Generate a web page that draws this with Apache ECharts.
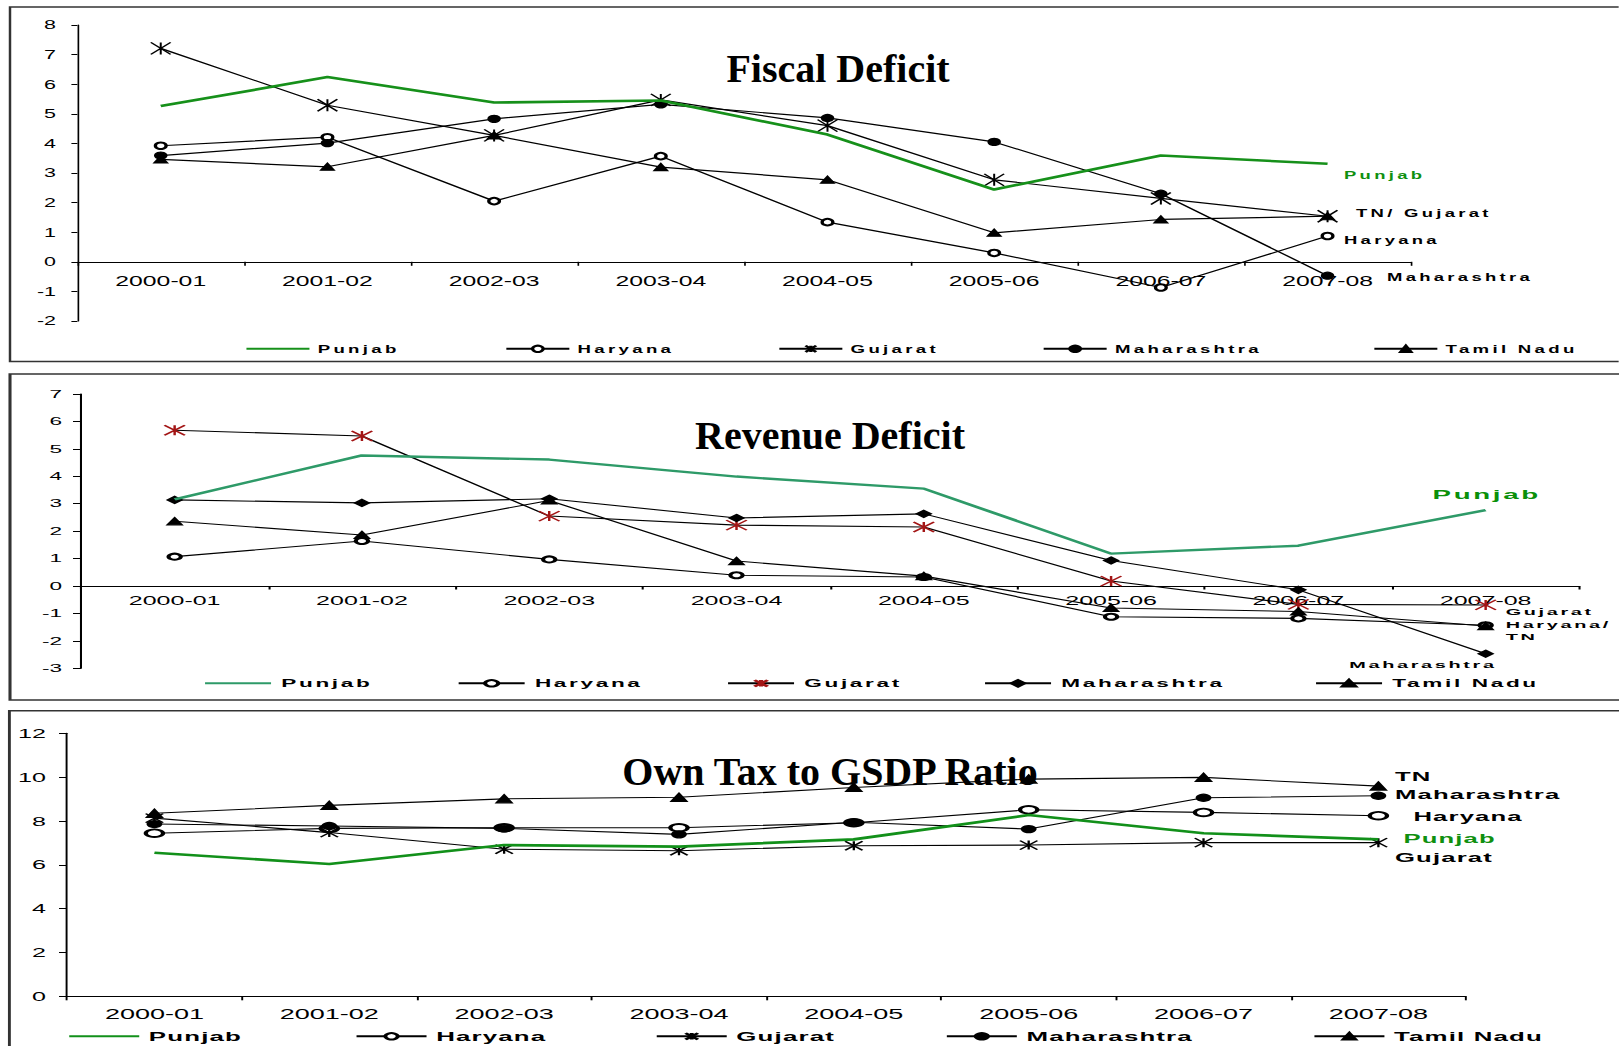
<!DOCTYPE html>
<html>
<head>
<meta charset="utf-8">
<script src="https://cdn.jsdelivr.net/npm/echarts@6/dist/echarts.min.js"></script>
<style>
  html, body { margin: 0; padding: 0; background: #fff; width: 1619px; height: 1046px; overflow: hidden; position: relative; }
  .panel { position: absolute; left: 0; top: 0; height: 1046px; transform-origin: 0 0; }
  /* wide-tracked bold captions (legend + line labels), titles excluded */
  #fiscal text[style*="bold"]:not([style*="Serif"]) { letter-spacing: 2px; }
  #revenue text[style*="bold"]:not([style*="Serif"]) { letter-spacing: 1.3px; }
  #owntax text[style*="bold"]:not([style*="Serif"]) { letter-spacing: 0.6px; }
</style>
</head>
<body>
<div id="fiscal" class="panel"></div>
<div id="revenue" class="panel"></div>
<div id="owntax" class="panel"></div>
<script>
// ---- shared categories ----
const years = ['2000-01', '2001-02', '2002-03', '2003-04', '2004-05', '2005-06', '2006-07', '2007-08'];
const states = ['Punjab', 'Haryana', 'Gujarat', 'Maharashtra', 'Tamil Nadu'];

// ---- Fiscal Deficit (% of GSDP) ----
const fdPunjab      = [5.26, 6.24, 5.38, 5.45, 4.30, 2.44, 3.59, 3.31];
const fdHaryana     = [3.92, 4.21, 2.05, 3.57, 1.34, 0.30, -0.87, 0.87];
const fdGujarat     = [7.21, 5.29, 4.27, 5.47, 4.60, 2.77, 2.14, 1.54];
const fdMaharashtra = [3.59, 4.01, 4.83, 5.32, 4.86, 4.05, 2.30, -0.47];
const fdTamilNadu   = [3.46, 3.21, 4.27, 3.20, 2.77, 0.98, 1.43, 1.54];
const fdScale = [-2, 8, 1];   // min, max, step

// ---- Revenue Deficit (% of GSDP) ----
const rdPunjab      = [3.16, 4.76, 4.61, 3.99, 3.55, 1.18, 1.47, 2.77];
const rdHaryana     = [1.07, 1.64, 0.97, 0.39, 0.33, -1.12, -1.18, -1.43];
const rdGujarat     = [5.68, 5.47, 2.55, 2.22, 2.15, 0.18, -0.67, -0.69];
const rdMaharashtra = [3.14, 3.03, 3.18, 2.48, 2.63, 0.93, -0.14, -2.47];
const rdTamilNadu   = [2.36, 1.86, 3.12, 0.91, 0.36, -0.80, -0.93, -1.46];
const rdScale = [-3, 7, 1];

// ---- Own Tax to GSDP Ratio ----
const otPunjab      = [6.55, 6.04, 6.90, 6.83, 7.16, 8.27, 7.44, 7.16];
const otHaryana     = [7.44, 7.66, 7.69, 7.69, 7.92, 8.51, 8.39, 8.24];
const otGujarat     = [8.13, 7.47, 6.71, 6.64, 6.87, 6.90, 7.01, 7.01];
const otMaharashtra = [7.86, 7.77, 7.66, 7.39, 7.94, 7.63, 9.06, 9.15];
const otTamilNadu   = [8.35, 8.71, 9.01, 9.08, 9.53, 9.91, 9.99, 9.59];
const otScale = [0, 12, 2];

const STAR = 'path://M0 0L10 10M10 0L0 10M5 0L5 10';
const SANS = 'Liberation Sans';

const panels = [
  {
    id: 'fiscal', title: 'Fiscal Deficit', stretch: 1.65,
    values: [fdPunjab, fdHaryana, fdGujarat, fdMaharashtra, fdTamilNadu], scale: fdScale,
    grid: { x0: 77.4, x1: 1410.9, y0: 25, y1: 321 },
    frame: { x: 10, y: 7, w: 1650, h: 354.5 },
    titleAt: [838, 68],
    lineColors: ['#16901a', '#000', '#000', '#000', '#000'],
    markColors: ['#16901a', '#000', '#000', '#000', '#000'],
    widths: [2.6, 1.2, 1.2, 1.2, 1.2],
    symbols: ['none', 'emptyCircle', STAR, 'circle', 'triangle'],
    sizes: [0, 6.5, 12, 7, [8, 7]],
    xFont: 15, yFont: 13, xMargin: 10.9, yGap: 21.4, yTick: 6, xTick: 4,
    legend: { x: [244.8, 504.7, 777.7, 1042, 1372.7], y: 349, len: 63, font: 11.3 },
    labels: [
      { series: 0, text: 'Punjab', dx: 16.4, dy: 10.7, size: 11.2, color: '#109010' },
      { series: 2, text: 'TN/ Gujarat', dx: 28.4, dy: -3.4, size: 11.2 },
      { series: 1, text: 'Haryana', dx: 16.4, dy: 3.5, size: 11.2 },
      { series: 3, text: 'Maharashtra', dx: 59.4, dy: 1.5, size: 11.2 }
    ]
  },
  {
    id: 'revenue', title: 'Revenue Deficit', stretch: 2.05,
    values: [rdPunjab, rdHaryana, rdGujarat, rdMaharashtra, rdTamilNadu], scale: rdScale,
    grid: { x0: 81, x1: 1579.3, y0: 394, y1: 668.3 },
    frame: { x: 10, y: 374, w: 1650, h: 326 },
    titleAt: [830, 436],
    lineColors: ['#2e9a68', '#000', '#000', '#000', '#000'],
    markColors: ['#2e9a68', '#000', '#a31515', '#000', '#000'],
    widths: [2.4, 1.1, 1.1, 1.1, 1.1],
    symbols: ['none', 'emptyCircle', STAR, 'diamond', 'triangle'],
    sizes: [0, 6, 10, 7, 7],
    xFont: 12.2, yFont: 11, xMargin: 8.9, yGap: 19, yTick: 8, xTick: 3.5,
    legend: { x: [203, 456.6, 726, 983, 1314], y: 683.3, len: 66, font: 11 },
    labels: [
      { series: 0, text: 'Punjab', dx: 1, dy: -15.7, size: 13.5, color: '#0a900a', align: 'center' },
      { series: 2, text: 'Gujarat', dx: 20, dy: 7, size: 9.7 },
      { series: 1, text: 'Haryana/\nTN', dx: 20, dy: 5.8, size: 9.7, lineHeight: 12 },
      { series: 3, text: 'Maharashtra', dx: 11, dy: 10.5, size: 9.7, align: 'right' }
    ]
  },
  {
    id: 'owntax', title: 'Own Tax to GSDP Ratio', stretch: 1.93,
    values: [otPunjab, otHaryana, otGujarat, otMaharashtra, otTamilNadu], scale: otScale,
    grid: { x0: 67, x1: 1465.8, y0: 733.3, y1: 996.3 },
    frame: { x: 9.4, y: 710.7, w: 1650, h: 400 },
    titleAt: [830, 771.7],
    lineColors: ['#12901a', '#000', '#000', '#000', '#000'],
    markColors: ['#12901a', '#000', '#000', '#000', '#000'],
    widths: [2.6, 1.1, 1.1, 1.1, 1.1],
    symbols: ['none', 'emptyCircle', STAR, 'circle', 'triangle'],
    sizes: [0, [9, 7.5], 9, 7, [8, 8]],
    xFont: 14, yFont: 13, xMargin: 10.7, yGap: 21, yTick: 8, xTick: 4,
    legend: { x: [67.3, 354.6, 654.8, 944.9, 1312.5], y: 1036.5, len: 70, font: 13.4 },
    labels: [
      { series: 4, text: 'TN', dx: 16.6, dy: -10.4, size: 13.3 },
      { series: 3, text: 'Maharashtra', dx: 16.6, dy: -1.7, size: 13.3 },
      { series: 1, text: 'Haryana', dx: 35, dy: 0, size: 13.3 },
      { series: 0, text: 'Punjab', dx: 25, dy: -1, size: 13.3, color: '#109010' },
      { series: 2, text: 'Gujarat', dx: 16.6, dy: 14, size: 13.3 }
    ]
  }
];

function buildPanel(cfg) {
  const s = cfg.stretch;
  const X = v => v / s;             // page x -> chart x (panel is widened by s)
  const W = 1619 / s;
  const dom = document.getElementById(cfg.id);
  dom.style.width = W + 'px';
  dom.style.transform = 'scaleX(' + s + ')';
  const chart = echarts.init(dom, null, { renderer: 'svg', width: W, height: 1046 });

  const series = states.map((name, i) => ({
    type: 'line',
    name: name,
    data: cfg.values[i],
    symbol: cfg.symbols[i],
    symbolSize: cfg.sizes[i],
    showSymbol: cfg.symbols[i] !== 'none',
    lineStyle: { color: cfg.lineColors[i], width: cfg.widths[i] },
    itemStyle: { color: cfg.markColors[i], borderColor: cfg.markColors[i], borderWidth: 1.2 },
    emphasis: { disabled: true },
    z: i === 0 ? 3 : 2
  }));

  const legends = states.map((name, i) => {
    const lg = {
      data: [name],
      left: X(cfg.legend.x[i]),
      top: cfg.legend.y - cfg.legend.font / 2,
      padding: 0,
      itemWidth: X(cfg.legend.len),
      itemHeight: 8,
      selectedMode: false,
      textStyle: { fontFamily: SANS, fontWeight: 'bold', fontSize: cfg.legend.font, color: '#000' }
    };
    if (cfg.symbols[i] === 'none') lg.itemStyle = { opacity: 0 };  // plain line key
    return lg;
  });

  const option = {
    animation: false,
    textStyle: { fontFamily: SANS },
    grid: {
      left: X(cfg.grid.x0), top: cfg.grid.y0,
      width: X(cfg.grid.x1 - cfg.grid.x0), height: cfg.grid.y1 - cfg.grid.y0,
      containLabel: false, outerBoundsMode: 'none'
    },
    xAxis: {
      type: 'category', data: years, boundaryGap: true, position: 'bottom',
      axisLine: { onZero: false, lineStyle: { color: '#000', width: 1 } },
      axisTick: { show: true, length: cfg.xTick, lineStyle: { color: '#000' } },
      axisLabel: { color: '#000', fontFamily: SANS, fontSize: cfg.xFont, margin: cfg.xMargin, interval: 0 },
      splitLine: { show: false }
    },
    yAxis: {
      type: 'value', min: cfg.scale[0], max: cfg.scale[1], interval: cfg.scale[2],
      axisLine: { show: true, lineStyle: { color: '#000', width: 1 } },
      axisTick: { show: true, length: X(cfg.yTick), lineStyle: { color: '#000' } },
      axisLabel: { color: '#000', fontFamily: SANS, fontSize: cfg.yFont, margin: X(cfg.yGap) },
      splitLine: { show: false }
    },
    legend: legends,
    series: series
  };
  chart.setOption(option);

  // category axis (line + labels) sits on the zero level of the value axis
  const zeroY = chart.convertToPixel({ yAxisIndex: 0 }, 0);
  const bottomY = chart.convertToPixel({ yAxisIndex: 0 }, cfg.scale[0]);
  const axisShift = zeroY - bottomY;

  // panel frame, heading and line-end captions
  const last = years.length - 1;
  const frame = {
    type: 'rect', silent: true, z: 0,
    shape: { x: X(cfg.frame.x), y: cfg.frame.y, width: X(cfg.frame.w), height: cfg.frame.h },
    style: { fill: 'none', stroke: '#333', lineWidth: 1.5 }
  };
  const heading = {
    type: 'text', silent: true, z: 5,
    x: X(cfg.titleAt[0]), y: cfg.titleAt[1], scaleX: 1 / s,
    style: {
      text: cfg.title, fill: '#000', font: 'bold 40px "Liberation Serif"',
      textAlign: 'center', textVerticalAlign: 'middle', align: 'center', verticalAlign: 'middle'
    }
  };
  const captions = cfg.labels.map(l => {
    const p = chart.convertToPixel({ seriesIndex: l.series }, [last, cfg.values[l.series][last]]);
    const align = l.align || 'left';
    return {
      type: 'text', silent: true, z: 10,
      x: p[0] + X(l.dx), y: p[1] + l.dy,
      style: {
        text: l.text, fill: l.color || '#000',
        font: 'bold ' + l.size + 'px "' + SANS + '"',
        lineHeight: l.lineHeight,
        textAlign: align, align: align, textVerticalAlign: 'middle', verticalAlign: 'middle'
      }
    };
  });
  chart.setOption({ xAxis: { offset: axisShift }, graphic: [frame, heading].concat(captions) });
}

panels.forEach(buildPanel);
</script>
</body>
</html>
